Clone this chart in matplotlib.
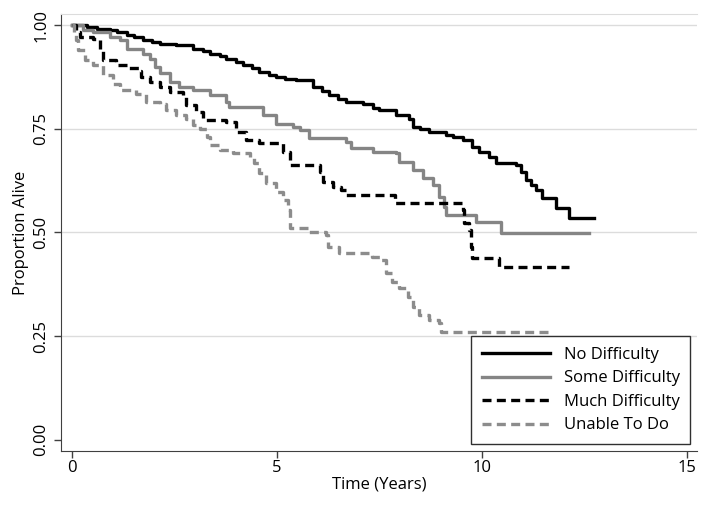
import numpy as np
import matplotlib
matplotlib.use('Agg')
import matplotlib.pyplot as plt

plt.rcParams['font.family'] = ['Open Sans', 'DejaVu Sans']

# Kaplan-Meier estimates (time in years, survival after the drop)
no_t = [0, 0.35, 0.6, 0.92, 1.1, 1.33, 1.5, 1.73, 1.95, 2.14, 2.54, 2.95, 3.2, 3.36, 3.6, 3.76,
        4.0, 4.17, 4.4, 4.57, 4.8, 4.98, 5.2, 5.47, 5.87, 6.1, 6.28, 6.5, 6.69, 7.09, 7.34, 7.5,
        7.9, 8.23, 8.31, 8.5, 8.72, 9.12, 9.3, 9.53, 9.77, 9.94, 10.18, 10.34, 10.83, 10.95,
        11.07, 11.2, 11.32, 11.48, 11.8, 12.13]
no_s = [1.0, 0.996, 0.992, 0.988, 0.983, 0.976, 0.971, 0.964, 0.96, 0.956, 0.952, 0.944, 0.938,
        0.932, 0.926, 0.92, 0.912, 0.904, 0.896, 0.887, 0.881, 0.875, 0.871, 0.867, 0.851, 0.842,
        0.831, 0.823, 0.815, 0.811, 0.8, 0.795, 0.783, 0.775, 0.755, 0.749, 0.743, 0.735, 0.73,
        0.723, 0.706, 0.694, 0.682, 0.667, 0.662, 0.645, 0.626, 0.614, 0.602, 0.582, 0.558, 0.534]
no_end = 12.74

some_t = [0, 0.26, 0.51, 0.92, 1.16, 1.33, 1.73, 1.9, 2.02, 2.14, 2.38, 2.62, 2.95, 3.36, 3.76,
          3.84, 4.65, 4.98, 5.39, 5.55, 5.79, 6.69, 6.81, 7.34, 7.9, 7.99, 8.31, 8.56, 8.8, 8.96,
          9.08, 9.12, 9.86, 10.47]
some_s = [1.0, 0.988, 0.984, 0.972, 0.964, 0.944, 0.932, 0.92, 0.899, 0.884, 0.863, 0.851, 0.843,
          0.831, 0.815, 0.803, 0.783, 0.763, 0.755, 0.747, 0.727, 0.718, 0.703, 0.694, 0.691, 0.67,
          0.65, 0.631, 0.614, 0.586, 0.562, 0.542, 0.525, 0.499]
some_end = 12.62

much_t = [0, 0.1, 0.19, 0.51, 0.68, 0.75, 1.08, 1.33, 1.65, 1.69, 1.9, 2.14, 2.38, 2.7, 2.79,
          3.03, 3.19, 3.76, 4.0, 4.25, 4.57, 5.14, 5.31, 6.04, 6.12, 6.36, 6.57, 6.69, 7.87, 9.53,
          9.57, 9.69, 9.74, 9.77, 10.42]
much_s = [1.0, 0.984, 0.972, 0.968, 0.944, 0.916, 0.904, 0.896, 0.891, 0.875, 0.863, 0.851, 0.839,
          0.827, 0.807, 0.791, 0.771, 0.767, 0.743, 0.723, 0.715, 0.694, 0.662, 0.646, 0.622, 0.61,
          0.602, 0.59, 0.571, 0.554, 0.522, 0.505, 0.465, 0.438, 0.417]
much_end = 12.13

unable_t = [0, 0.05, 0.1, 0.14, 0.31, 0.51, 0.75, 1.0, 1.16, 1.57, 1.81, 2.14, 2.3, 2.54, 2.79,
            2.95, 3.12, 3.28, 3.36, 3.6, 3.92, 4.33, 4.45, 4.57, 4.74, 4.98, 5.14, 5.27, 5.31,
            5.79, 6.2, 6.24, 6.52, 7.33, 7.54, 7.66, 7.82, 7.99, 8.19, 8.31, 8.47, 8.72, 8.96, 9.0]
unable_s = [1.0, 0.98, 0.964, 0.94, 0.916, 0.904, 0.879, 0.859, 0.843, 0.835, 0.815, 0.811, 0.795,
            0.783, 0.775, 0.759, 0.751, 0.731, 0.71, 0.698, 0.691, 0.682, 0.667, 0.643, 0.619,
            0.598, 0.578, 0.554, 0.51, 0.501, 0.493, 0.465, 0.45, 0.441, 0.433, 0.401, 0.381,
            0.365, 0.345, 0.32, 0.3, 0.288, 0.281, 0.26]
unable_end = 11.69

labels = ['No Difficulty', 'Some Difficulty', 'Much Difficulty', 'Unable To Do']
x_ticks = [0, 5, 10, 15]
y_ticks = [0.0, 0.25, 0.5, 0.75, 1.0]

fig = plt.figure(figsize=(7.06, 5.07), dpi=100)
ax = fig.add_axes([0.086, 0.111, 0.901, 0.861])

for y in y_ticks[1:]:
    ax.axhline(y, color='#dcdcdc', lw=1, zorder=0)

curves = [(no_t, no_s, no_end, 'black', '-'),
          (some_t, some_s, some_end, '#858585', '-'),
          (much_t, much_s, much_end, 'black', '--'),
          (unable_t, unable_s, unable_end, '#8c8c8c', '--')]
for (t, s, tend, c, ls), lab in zip(curves, labels):
    tt = list(t) + [tend]
    ss = list(s) + [s[-1]]
    line, = ax.step(tt, ss, where='post', color=c, lw=2.4, label=lab)
    if ls == '--':
        line.set_dashes((2.7, 1.6))

ax.set_xlim(-0.28, 15.25)
ax.set_ylim(-0.027, 1.027)
ax.set_xticks(x_ticks)
ax.set_yticks(y_ticks)
ax.set_yticklabels(['%.2f' % v for v in y_ticks], rotation=90, va='center')
ax.tick_params(axis='both', direction='out', length=5, width=1, color='#404040',
               labelsize=12, labelcolor='black')
ax.tick_params(axis='y', pad=3)
ax.tick_params(axis='x', pad=2)
ax.set_xlabel('Time (Years)', fontsize=12, labelpad=0)
ax.set_ylabel('Proportion Alive', fontsize=12, labelpad=3)

ax.spines['right'].set_visible(False)
ax.spines['top'].set_color('#dcdcdc')
ax.spines['left'].set_color('#404040')
ax.spines['bottom'].set_color('#404040')

leg = ax.legend(loc='lower right', bbox_to_anchor=(0.99, 0.015), borderaxespad=0,
                fontsize=12, handlelength=4.1, fancybox=False, framealpha=1,
                edgecolor='#303030', borderpad=0.65, labelspacing=0.45, handletextpad=0.8)
leg.get_frame().set_linewidth(1)

plt.savefig('out.png', dpi=100)
